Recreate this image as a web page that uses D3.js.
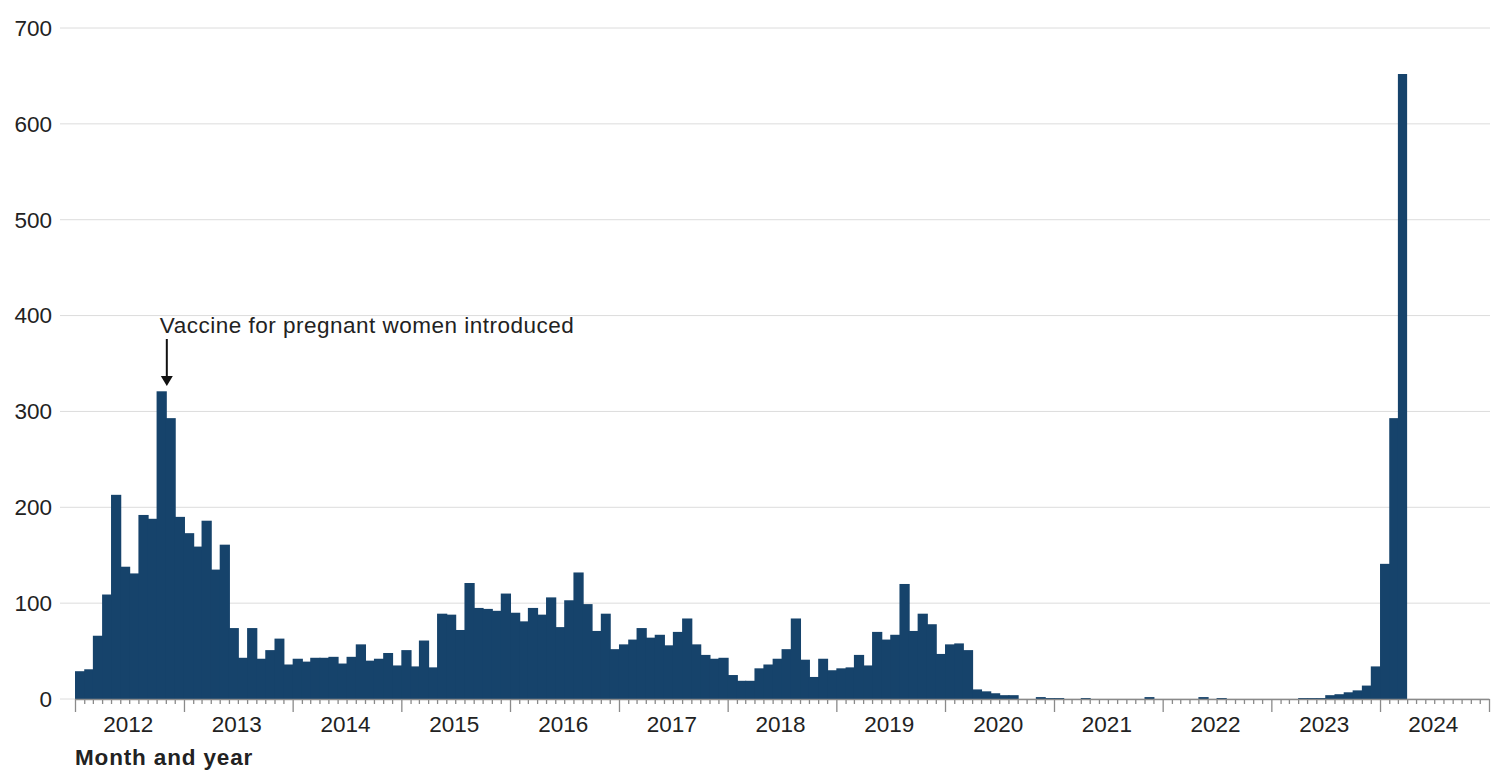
<!DOCTYPE html>
<html>
<head>
<meta charset="utf-8">
<script src="https://cdn.jsdelivr.net/npm/d3@7"></script>
<style>
  html, body { margin: 0; padding: 0; background: #fff; }
  svg { display: block; font-family: "Liberation Sans", Arial, Helvetica, sans-serif; }
</style>
</head>
<body>
<svg id="chart" width="1504" height="780"></svg>
<script>
// Monthly counts, January 2012 to March 2024
const startMonth = "2012-01";
const values = [
  29, 31, 66, 109, 213, 138, 131, 192, 188, 321, 293, 190,      // 2012
  173, 159, 186, 135, 161, 74, 43, 74, 42, 51, 63, 36,          // 2013
  42, 39, 43, 43, 44, 37, 44, 57, 40, 42, 48, 35,               // 2014
  51, 34, 61, 33, 89, 88, 72, 121, 95, 94, 92, 110,             // 2015
  90, 81, 95, 88, 106, 75, 103, 132, 99, 71, 89, 52,            // 2016
  57, 62, 74, 64, 67, 56, 70, 84, 57, 46, 42, 43,               // 2017
  25, 19, 19, 32, 36, 42, 52, 84, 41, 23, 42, 30,               // 2018
  32, 33, 46, 35, 70, 62, 67, 120, 71, 89, 78, 47,              // 2019
  57, 58, 51, 10, 8, 6, 4, 4, 0, 0, 2, 1,                       // 2020
  1, 0, 0, 1, 0, 0, 0, 0, 0, 0, 2, 0,                           // 2021
  0, 0, 0, 0, 2, 0, 1, 0, 0, 0, 0, 0,                           // 2022
  0, 0, 0, 1, 1, 1, 4, 5, 7, 9, 14, 34,                         // 2023
  141, 293, 652                                                 // 2024
];
const yTicks = [0, 100, 200, 300, 400, 500, 600, 700];
const yearLabels = ["2012","2013","2014","2015","2016","2017","2018","2019","2020","2021","2022","2023","2024"];
const xAxisTitle = "Month and year";
const annotationText = "Vaccine for pregnant women introduced";
const annotationMonth = "2012-10";

const svg = d3.select("#chart");
const parse = d3.utcParse("%Y-%m");
const t0 = parse(startMonth);
const data = values.map((v, i) => ({ date: d3.utcMonth.offset(t0, i), value: v }));

const x = d3.scaleUtc()
  .domain([parse(yearLabels[0] + "-01"), parse(String(+yearLabels[yearLabels.length - 1] + 1) + "-01")])
  .range([75, 1489]);
const y = d3.scaleLinear().domain([0, 700]).range([699, 28]);

// gridlines
svg.append("g").selectAll("line").data(yTicks).join("line")
  .attr("x1", 60).attr("x2", 1490)
  .attr("y1", d => y(d)).attr("y2", d => y(d))
  .attr("stroke", "#dcdcdc").attr("stroke-width", 1);

// y labels
svg.append("g").selectAll("text").data(yTicks).join("text")
  .attr("x", 52).attr("y", d => y(d))
  .attr("dy", "0.35em").attr("text-anchor", "end")
  .attr("font-size", 22.5).attr("fill", "#222")
  .text(d => d);

// bars
svg.append("g").selectAll("rect").data(data).join("rect")
  .attr("x", d => x(d.date))
  .attr("width", (d, i) => x(d3.utcMonth.offset(d.date, 1)) - x(d.date) + (i < data.length - 1 ? 1 : 0))
  .attr("y", d => y(d.value))
  .attr("height", d => y(0) - y(d.value))
  .attr("fill", "#16436b");

// x axis: monthly minor ticks, yearly major ticks
const monthTicks = d3.utcMonth.range(x.domain()[0], d3.utcMonth.offset(x.domain()[1], 1));
const axisG = svg.append("g").attr("transform", `translate(0,${y(0)})`);
axisG.call(d3.axisBottom(x).tickValues(monthTicks).tickSize(5).tickFormat(""))
  .call(g => g.select(".domain").attr("stroke", "#8a8a8a").attr("stroke-width", 1.6))
  .call(g => g.selectAll(".tick line")
    .attr("stroke", "#8a8a8a").attr("stroke-width", 1.3)
    .attr("y2", d => d.getUTCMonth() === 0 ? 13 : 5));
axisG.select(".domain").attr("d", `M${x.range()[0]},0.5H${x.range()[1]}`);

// year labels centered in each year
svg.append("g").selectAll("text").data(yearLabels).join("text")
  .attr("x", d => x(parse(d + "-07")) - 1)
  .attr("y", 732)
  .attr("text-anchor", "middle")
  .attr("font-size", 22.5).attr("fill", "#222")
  .text(d => d);

svg.append("text")
  .attr("x", 75).attr("y", 765)
  .attr("font-size", 22.5).attr("font-weight", "bold").attr("fill", "#222")
  .attr("letter-spacing", 0.85)
  .text(xAxisTitle);

// annotation
const am = parse(annotationMonth);
const ax = x(d3.utcMonth.offset(am, 1)) + 1;
svg.append("text")
  .attr("x", ax - 7).attr("y", 333)
  .attr("font-size", 22.5).attr("fill", "#222")
  .attr("letter-spacing", 0.5)
  .text(annotationText);
svg.append("line")
  .attr("x1", ax).attr("x2", ax).attr("y1", 339).attr("y2", 378)
  .attr("stroke", "#111").attr("stroke-width", 2);
svg.append("path")
  .attr("d", `M${ax - 6},${376}L${ax + 6},${376}L${ax},${386}Z`)
  .attr("fill", "#111");
</script>
</body>
</html>
